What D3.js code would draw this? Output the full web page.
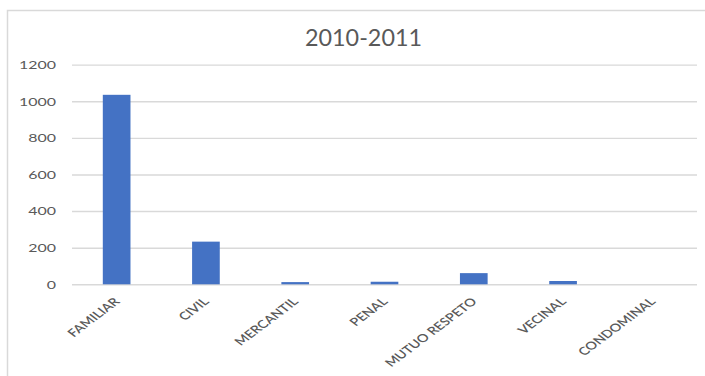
<!DOCTYPE html>
<html><head><meta charset="utf-8">
<script src="https://cdn.jsdelivr.net/npm/d3@7"></script>
<style>body{margin:0;background:#fff}svg{display:block}</style>
</head><body>
<svg id="c" width="705" height="376"></svg>
<script>
const title = "2010-2011";
const categories = ["FAMILIAR","CIVIL","MERCANTIL","PENAL","MUTUO RESPETO","VECINAL","CONDOMINAL"];
const values = [1035, 233, 12, 14, 61, 18, 0];
const yTicks = [0,200,400,600,800,1000,1200];

const svg = d3.select("#c");
const font = "Lato, 'Open Sans', sans-serif";
const SX = 1.33; // horizontal stretch of the reference text
const W = 705, H = 376;
const m = {l:72, r:8, t:64.6, b:91.7};
// chart frame
svg.append("rect").attr("x",7.5).attr("y",10.5).attr("width",720).attr("height",400)
  .attr("fill","#fff").attr("stroke","#d9d9d9").attr("stroke-width",1.5);

const x = d3.scaleBand().domain(categories).range([m.l, W - m.r]).paddingInner(0.69).paddingOuter(0.345);
const y = d3.scaleLinear().domain([0,1200]).range([H - m.b, m.t]);

const grid = svg.append("g").attr("transform",`translate(${m.l},0)`)
  .call(d3.axisLeft(y).tickValues(yTicks).tickFormat(d3.format("d")).tickSize(-(W - m.r - m.l)));
grid.select(".domain").remove();
grid.selectAll(".tick line").attr("stroke","#d9d9d9").attr("stroke-width",1.4);
grid.selectAll(".tick text").attr("fill","#595959").style("font-family",font).style("font-size","12px")
  .attr("x",0).attr("transform",`translate(-16,0) scale(${SX},1)`);

svg.append("g").selectAll("rect").data(values).join("rect")
  .attr("x",(d,i)=>x(categories[i]))
  .attr("width",x.bandwidth())
  .attr("y",d=>y(d))
  .attr("height",d=>y(0)-y(d))
  .attr("fill","#4472c4");

const xa = svg.append("g").attr("transform",`translate(0,${y(0)})`)
  .call(d3.axisBottom(x).tickSize(0));
xa.select(".domain").remove();
xa.selectAll(".tick text")
  .attr("fill","#595959").style("font-family",font).style("font-size","11px").style("font-weight","600")
  .attr("text-anchor","end").attr("x",0).attr("y",0).attr("dy",null)
  .attr("transform",`translate(4,18) scale(${SX},1) rotate(-45)`);

svg.append("text").attr("x",363.5).attr("y",46).attr("text-anchor","middle")
  .attr("textLength",117).attr("lengthAdjust","spacingAndGlyphs")
  .attr("fill","#595959").style("font-family",font).style("font-size","23px").text(title);
</script>
</body></html>
